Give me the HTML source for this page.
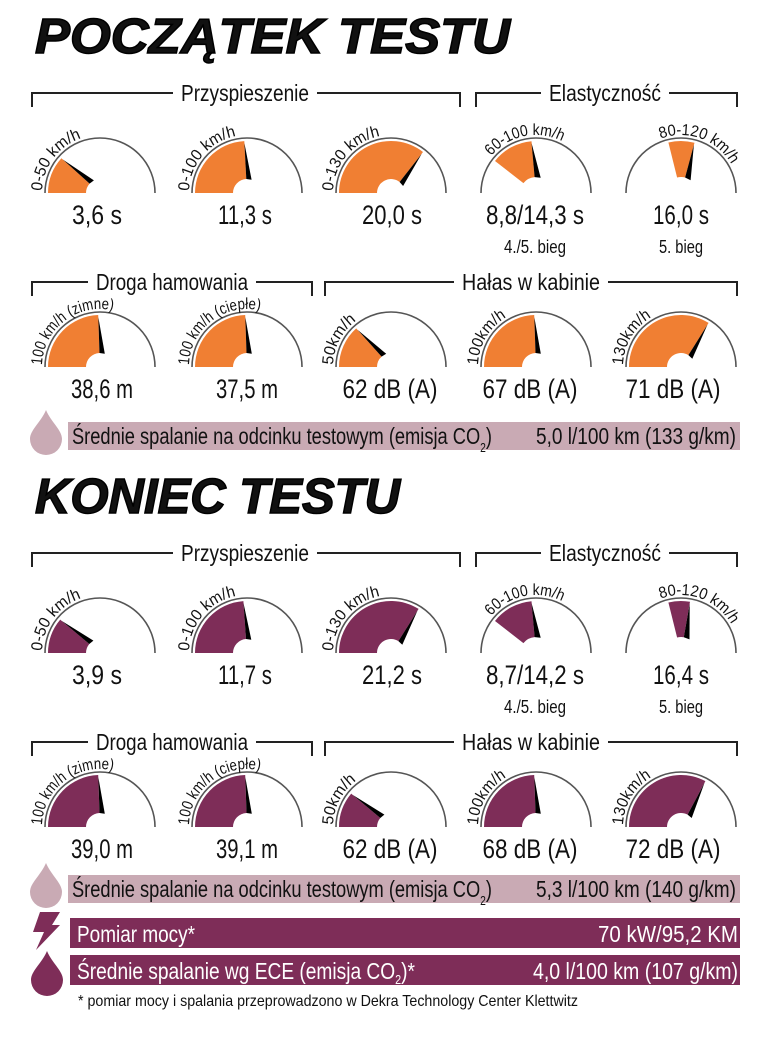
<!DOCTYPE html>
<html><head><meta charset="utf-8">
<style>
html,body{margin:0;padding:0;background:#fff;}
svg{display:block;}
text{font-family:"Liberation Sans",sans-serif;fill:#111;}
</style></head>
<body>
<svg id="s" width="777" height="1044" viewBox="0 0 777 1044" xmlns="http://www.w3.org/2000/svg"></svg>
<script>
var s=document.getElementById('s');var h='';
var OR='#f07f33',PU='#7e2d58',PK='#c9aab4';
function P(cx,cy,r,a){var t=a*Math.PI/180;return [cx-r*Math.cos(t),cy-r*Math.sin(t)];}
function f(p){return p[0].toFixed(1)+','+p[1].toFixed(1);}
function T(x,y,str,size,w,anchor,extra){
 h+='<text x="'+x+'" y="'+y+'" font-size="'+size+'" text-anchor="'+(anchor||'middle')+'" textLength="'+w+'" lengthAdjust="spacingAndGlyphs" '+(extra||'')+'>'+str+'</text>';}
var gid=0;
function gauge(cx,cy,a0,a1,col,label,loff,lw){
 h+='<path d="M'+(cx-55)+','+cy+' A55,55 0 0 1 '+(cx+55)+','+cy+'" fill="none" stroke="#555" stroke-width="1.6"/>';
 var ro=52,ri=a0>5?16:14;
 var p1=P(cx,cy,ro,a0),p2=P(cx,cy,ro,a1),p3=P(cx,cy,ri,a1),p4=P(cx,cy,ri,a0);
 h+='<path d="M'+f(p1)+' A'+ro+','+ro+' 0 0 1 '+f(p2)+' L'+f(p3)+' A'+ri+','+ri+' 0 0 0 '+f(p4)+' Z" fill="'+col+'"/>';
 var n1=P(cx,cy,50,a1),n2=P(cx,cy,ri,a1),n3=P(cx,cy,ri,a1+22);
 h+='<path d="M'+f(n1)+' L'+f(n2)+' L'+f(n3)+' Z" fill="#000"/>';
 gid++;
 h+='<path id="lp'+gid+'" d="M'+(cx-58)+','+cy+' A58,58 0 0 1 '+(cx+58)+','+cy+'" fill="none"/>';
 h+='<text font-size="16"><textPath href="#lp'+gid+'" startOffset="'+loff+'" textLength="'+lw+'" lengthAdjust="spacingAndGlyphs">'+label+'</textPath></text>';
}
function bracket(x1,x2,y,label,lx,lw){
 h+='<path d="M'+x1+','+(y+14)+' V'+y+' H'+(lx-lw/2-8)+' M'+(lx+lw/2+8)+','+y+' H'+x2+' V'+(y+14)+'" fill="none" stroke="#222" stroke-width="2"/>';
 T(lx,y+8,label,23,lw);
}
function drop(x,y,col){h+='<path d="M'+x+','+y+' C'+(x-5)+','+(y+12)+' '+(x-16)+','+(y+20)+' '+(x-16)+','+(y+29)+' A16,16 0 0 0 '+(x+16)+','+(y+29)+' C'+(x+16)+','+(y+20)+' '+(x+5)+','+(y+12)+' '+x+','+y+' Z" fill="'+col+'"/>';}
var C=[100,247,391,536,681];
function section(dy,title,tw,col,v){
 h+='<text x="35" y="'+(53+dy)+'" font-size="49" font-weight="bold" font-style="italic" textLength="'+tw+'" lengthAdjust="spacingAndGlyphs" stroke="#000" stroke-width="1.5">'+title+'</text>';
 bracket(32,460,93+dy,'Przyspieszenie',245,128);
 bracket(476,737,93+dy,'Elastyczność',605,112);
 var y1=193+dy;
 gauge(C[0],y1,0,v.a[0],col,'0-50 km/h',2,70);
 gauge(C[1],y1,0,v.a[1],col,'0-100 km/h',2,78);
 gauge(C[2],y1,0,v.a[2],col,'0-130 km/h',2,78);
 gauge(C[3],y1,38,v.a[3],col,'60-100 km/h',40,78);
 gauge(C[4],y1,76,v.a[4],col,'80-120 km/h',70,82);
 var vy=224+dy;
 T(97,vy,v.t[0],27,50);T(245,vy,v.t[1],27,54);T(392,vy,v.t[2],27,60);T(535,vy,v.t[3],27,98);T(681,vy,v.t[4],27,56);
 T(535,253+dy,'4./5. bieg',18,62);T(681,253+dy,'5. bieg',18,44);
 bracket(32,312,282+dy,'Droga hamowania',172,152);
 bracket(325,737,282+dy,'Hałas w kabinie',531,138);
 var y2=367+dy;
 gauge(C[0],y2,0,v.b[0],col,'100 km/h (zimne)',2,102);
 gauge(C[1],y2,0,v.b[1],col,'100 km/h (ciepłe)',2,102);
 gauge(C[2],y2,0,v.b[2],col,'50km/h',2,52);
 gauge(C[3],y2,0,v.b[3],col,'100km/h',2,58);
 gauge(C[4],y2,0,v.b[4],col,'130km/h',2,58);
 var wy=398+dy;
 T(102,wy,v.u[0],27,62);T(247,wy,v.u[1],27,62);T(390,wy,v.u[2],27,95);T(530,wy,v.u[3],27,95);T(673,wy,v.u[4],27,95);
}
section(0,'POCZĄTEK TESTU',475,OR,{a:[42,87,128,85,105],t:['3,6 s','11,3 s','20,0 s','8,8/14,3 s','16,0 s'],b:[88,88,48,88,122],u:['38,6 m','37,5 m','62 dB (A)','67 dB (A)','71 dB (A)']});
section(460,'KONIEC TESTU',365,PU,{a:[40,86,122,85,100],t:['3,9 s','11,7 s','21,2 s','8,7/14,2 s','16,4 s'],b:[88,88,40,88,118],u:['39,0 m','39,1 m','62 dB (A)','68 dB (A)','72 dB (A)']});
function fuel(y,val){
 h+='<rect x="68" y="'+y+'" width="672" height="28" fill="'+PK+'"/>';
 drop(46,y-12,PK);
 T(72,y+22,'Średnie spalanie na odcinku testowym (emisja CO<tspan font-size="13" dy="8">2</tspan><tspan dy="-8">)</tspan>',23,420,'start');
 T(736,y+22,val,23,200,'end');
}
fuel(422,'5,0 l/100 km (133 g/km)');
fuel(875,'5,3 l/100 km (140 g/km)');
h+='<rect x="70" y="918" width="670" height="30" fill="'+PU+'"/>';
h+='<rect x="70" y="955" width="670" height="30" fill="'+PU+'"/>';
h+='<path d="M40,912 L60,912 L52,925 L60,925 L36,950 L44,932 L33,932 Z" fill="'+PU+'"/>';
drop(47,951,PU);
T(77,942,'Pomiar mocy*',23,118,'start','style="fill:#fff"');
T(738,942,'70 kW/95,2 KM',23,140,'end','style="fill:#fff"');
T(77,979,'Średnie spalanie wg ECE (emisja CO<tspan font-size="13" dy="5">2</tspan><tspan dy="-5">)*</tspan>',23,338,'start','style="fill:#fff"');
T(738,979,'4,0 l/100 km (107 g/km)',23,205,'end','style="fill:#fff"');
T(78,1006,'* pomiar mocy i spalania przeprowadzono w Dekra Technology Center Klettwitz',16,500,'start');
s.innerHTML=h;
</script>
</body></html>
